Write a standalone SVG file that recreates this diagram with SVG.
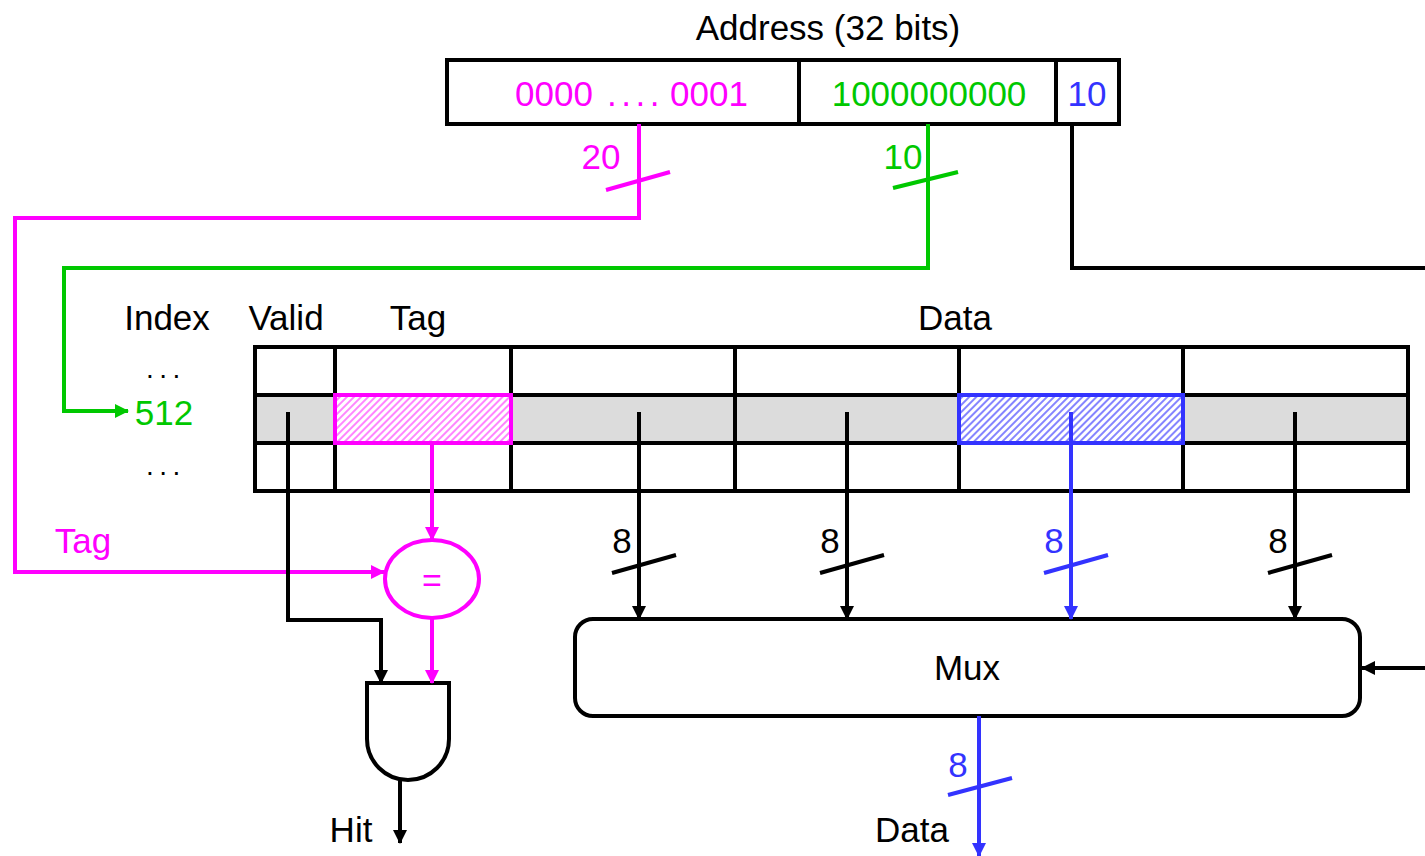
<svg xmlns="http://www.w3.org/2000/svg" width="1425" height="856" viewBox="0 0 1425 856">
<style>
text{font-family:"Liberation Sans",Arial,sans-serif;font-size:35px}
.k{fill:#000}.m{fill:#ff00ff}.g{fill:#00c800}.b{fill:#3333ff}
.ln{fill:none;stroke-width:4}
.sk{stroke:#000}.sm{stroke:#ff00ff}.sg{stroke:#00c800}.sb{stroke:#3333ff}
.dots{font-size:28px;letter-spacing:5.5px}
</style>
<defs>
<marker id="ak" viewBox="0 0 14 14" refX="13" refY="7" markerWidth="14" markerHeight="14" markerUnits="userSpaceOnUse" orient="auto"><path d="M0,0 L14,7 L0,14 z" fill="#000"/></marker>
<marker id="am" viewBox="0 0 14 14" refX="13" refY="7" markerWidth="14" markerHeight="14" markerUnits="userSpaceOnUse" orient="auto"><path d="M0,0 L14,7 L0,14 z" fill="#ff00ff"/></marker>
<marker id="ag" viewBox="0 0 14 14" refX="13" refY="7" markerWidth="14" markerHeight="14" markerUnits="userSpaceOnUse" orient="auto"><path d="M0,0 L14,7 L0,14 z" fill="#00c800"/></marker>
<marker id="ab" viewBox="0 0 14 14" refX="13" refY="7" markerWidth="14" markerHeight="14" markerUnits="userSpaceOnUse" orient="auto"><path d="M0,0 L14,7 L0,14 z" fill="#3333ff"/></marker>
<pattern id="hm" width="5" height="5" patternUnits="userSpaceOnUse" patternTransform="rotate(45)"><rect width="5" height="5" fill="#fff"/><line x1="1" y1="0" x2="1" y2="5" stroke="#ff66ff" stroke-width="1.6"/></pattern>
<pattern id="hb" width="5" height="5" patternUnits="userSpaceOnUse" patternTransform="rotate(45)"><rect width="5" height="5" fill="#fff"/><line x1="1" y1="0" x2="1" y2="5" stroke="#6666ff" stroke-width="1.6"/></pattern>
</defs>

<g id="address">
<text x="828" y="40" text-anchor="middle" class="k">Address (32 bits)</text>
<rect x="447" y="60" width="672" height="64" fill="#fff" stroke="#000" stroke-width="4"/>
<line x1="799" y1="60" x2="799" y2="124" stroke="#000" stroke-width="4"/>
<line x1="1056" y1="60" x2="1056" y2="124" stroke="#000" stroke-width="4"/>
<text x="515" y="106" class="m">0000</text>
<text x="607" y="106" class="m" style="letter-spacing:4.5px">....</text>
<text x="670" y="106" class="m">0001</text>
<text x="929" y="106" text-anchor="middle" class="g">1000000000</text>
<text x="1087" y="106" text-anchor="middle" class="b">10</text>
</g>

<g id="table">
<rect x="255" y="395" width="1153" height="48" fill="#dcdcdc"/>
<rect x="335" y="395" width="176" height="48" fill="url(#hm)"/>
<rect x="959" y="395" width="224" height="48" fill="url(#hb)"/>
<rect x="255" y="347" width="1153" height="144" fill="none" stroke="#000" stroke-width="4"/>
<path d="M255,395 H1408 M255,443 H1408 M335,347 V491 M511,347 V491 M735,347 V491 M959,347 V491 M1183,347 V491" fill="none" stroke="#000" stroke-width="4"/>
<rect x="335" y="395" width="176" height="48" fill="none" stroke="#ff00ff" stroke-width="4"/>
<rect x="959" y="395" width="224" height="48" fill="none" stroke="#3333ff" stroke-width="4"/>
<text x="167" y="330" text-anchor="middle" class="k">Index</text>
<text x="286" y="330" text-anchor="middle" class="k">Valid</text>
<text x="418" y="330" text-anchor="middle" class="k">Tag</text>
<text x="955" y="330" text-anchor="middle" class="k">Data</text>
<text x="146" y="378" class="k dots">...</text>
<text x="146" y="475" class="k dots">...</text>
<text x="164" y="425" text-anchor="middle" class="g">512</text>
</g>

<g id="compare">
<ellipse cx="432" cy="579" rx="47" ry="39" fill="#fff" stroke="#ff00ff" stroke-width="4"/>
<text x="432" y="592" text-anchor="middle" class="m" style="font-size:34px">=</text>
</g>

<g id="and">
<path d="M367,683 H449 V739 A41,41 0 0 1 367,739 Z" fill="#fff" stroke="#000" stroke-width="4"/>
<text x="351" y="842" text-anchor="middle" class="k">Hit</text>
</g>

<g id="mux">
<rect x="575" y="619" width="785" height="97" rx="18" fill="#fff" stroke="#000" stroke-width="4"/>
<text x="967" y="680" text-anchor="middle" class="k">Mux</text>
<text x="912" y="842" text-anchor="middle" class="k">Data</text>
</g>

<g id="connectors">
<path class="ln sm" d="M639,124 V218 H15 V572 H384" marker-end="url(#am)"/>
<path class="ln sm" d="M606,190 L670,172"/>
<text x="601" y="169" text-anchor="middle" class="m">20</text>
<path class="ln sg" d="M928,124 V268 H64 V411 H128" marker-end="url(#ag)"/>
<path class="ln sg" d="M893,188 L958,172"/>
<text x="903" y="169" text-anchor="middle" class="g">10</text>
<path class="ln sk" d="M1072,124 V268 H1425"/>
<path class="ln sk" d="M1425,668 H1362" marker-end="url(#ak)"/>
<text x="83" y="553" text-anchor="middle" class="m">Tag</text>
<path class="ln sk" d="M288,412 V620 H381 V683" marker-end="url(#ak)"/>
<path class="ln sm" d="M432,443 V540" marker-end="url(#am)"/>
<path class="ln sm" d="M432,618 V683" marker-end="url(#am)"/>
<path class="ln sk" d="M400,781 V843" marker-end="url(#ak)"/>
<path class="ln sk" d="M639,412 V619" marker-end="url(#ak)"/>
<path class="ln sk" d="M612,573 L676,555"/>
<text x="622" y="553" text-anchor="middle" class="k">8</text>
<path class="ln sk" d="M847,412 V619" marker-end="url(#ak)"/>
<path class="ln sk" d="M820,573 L884,555"/>
<text x="830" y="553" text-anchor="middle" class="k">8</text>
<path class="ln sb" d="M1071,412 V619" marker-end="url(#ab)"/>
<path class="ln sb" d="M1044,573 L1108,555"/>
<text x="1054" y="553" text-anchor="middle" class="b">8</text>
<path class="ln sk" d="M1295,412 V619" marker-end="url(#ak)"/>
<path class="ln sk" d="M1268,573 L1332,555"/>
<text x="1278" y="553" text-anchor="middle" class="k">8</text>
<path class="ln sb" d="M979,716 V856" marker-end="url(#ab)"/>
<path class="ln sb" d="M948,795 L1012,778"/>
<text x="958" y="777" text-anchor="middle" class="b">8</text>
</g>
</svg>
